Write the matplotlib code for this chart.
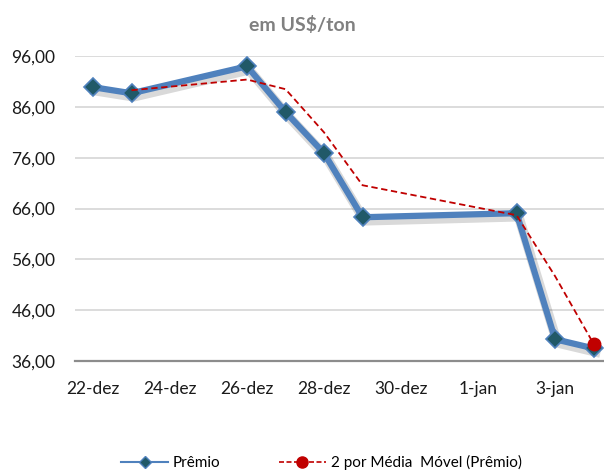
import datetime as dt
import matplotlib
matplotlib.use('Agg')
import matplotlib.pyplot as plt
import matplotlib.patheffects as pe
from matplotlib.lines import Line2D
from matplotlib.legend_handler import HandlerLine2D

# data
dates = ['2016-12-22', '2016-12-23', '2016-12-26', '2016-12-27', '2016-12-28',
         '2016-12-29', '2017-01-02', '2017-01-03', '2017-01-04']
premio = [89.9, 88.7, 94.0, 85.0, 76.9, 64.3, 65.1, 40.3, 38.5]
media_movel = [None, 89.3, 91.4, 89.5, 81.0, 70.6, 64.7, 52.7, 39.4]
tick_dates = ['2016-12-22', '2016-12-24', '2016-12-26', '2016-12-28',
              '2016-12-30', '2017-01-01', '2017-01-03']
tick_labels = ['22-dez', '24-dez', '26-dez', '28-dez', '30-dez', '1-jan', '3-jan']
y_ticks = [36, 46, 56, 66, 76, 86, 96]


class EndMarker(HandlerLine2D):
    # marker drawn at the right end of the legend line
    def get_xdata(self, legend, xdescent, ydescent, width, height, fontsize):
        xd, _ = super().get_xdata(legend, xdescent, ydescent, width, height, fontsize)
        return xd, [xd[-1]]


plt.rcParams['font.family'] = ['Lato', 'DejaVu Sans']

x = [dt.datetime.strptime(d, '%Y-%m-%d') for d in dates]
xt = [dt.datetime.strptime(d, '%Y-%m-%d') for d in tick_dates]
xm = [xi for xi, v in zip(x, media_movel) if v is not None]
ym = [v for v in media_movel if v is not None]

fig = plt.figure(figsize=(6.04, 4.72), dpi=100)
ax = fig.add_axes([0.124, 0.235, 0.876, 0.646])

blue = '#4F81BD'
# soft shadow under the main line
ax.plot(x, premio, color='none', lw=4.5, zorder=2,
        path_effects=[pe.SimpleLineShadow(offset=(1.5, -2.5), alpha=0.15,
                                          rho=0.5, linewidth=7)])
ax.plot(x, premio, color=blue, lw=4.5, marker='D', markersize=9,
        markerfacecolor='#215968', markeredgecolor=blue, markeredgewidth=1.2,
        zorder=3)
ax.plot(xm, ym, color='#C00000', lw=1.3, ls=(0, (3.5, 2)), zorder=4)
ax.plot(xm[-1:], ym[-1:], 'o', color='#C00000', markersize=9, zorder=5)

x0 = x[0]
ax.set_xlim(x0 - dt.timedelta(days=0.47), x0 + dt.timedelta(days=13.27))
ax.set_ylim(36, 96)
ax.set_yticks(y_ticks)
ax.set_yticklabels(['%d,00' % v for v in y_ticks])
ax.set_xticks(xt)
ax.set_xticklabels(tick_labels)
ax.tick_params(axis='both', length=0, labelsize=12.5, colors='#1a1a1a')
ax.tick_params(axis='x', pad=14)
ax.tick_params(axis='y', pad=14)

ax.grid(axis='y', color='#D9D9D9', lw=1.3)
ax.set_axisbelow(True)
for s in ['top', 'right', 'left']:
    ax.spines[s].set_visible(False)
ax.spines['bottom'].set_color('#8C8C8C')
ax.spines['bottom'].set_linewidth(1.6)

fig.text(0.5, 0.947, 'em US$/ton', ha='center', va='center',
         fontsize=14, fontweight='bold', color='#808080')

h1 = Line2D([], [], color=blue, lw=1.5, marker='D', markersize=6,
            markerfacecolor='#215968', markeredgecolor=blue)
h2 = Line2D([], [], color='#C00000', lw=1.2, ls=(0, (3, 1.5)), marker='o',
            markersize=8)
leg = fig.legend([h1, h2], ['Prêmio', '2 por Média  Móvel (Prêmio)'],
                 loc='center', bbox_to_anchor=(0.532, 0.02), ncol=2,
                 frameon=False, fontsize=11, handlelength=3.1,
                 columnspacing=3.8, handletextpad=0.3, numpoints=1,
                 handler_map={h2: EndMarker(numpoints=1)})

fig.savefig('out.png', dpi=100)
